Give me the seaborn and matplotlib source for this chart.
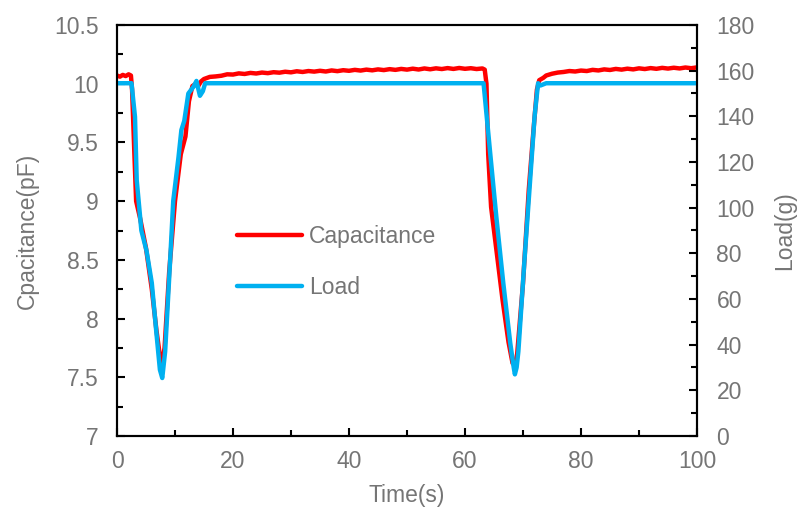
import matplotlib
matplotlib.use("Agg")
import matplotlib.pyplot as plt
from matplotlib.ticker import MultipleLocator
import seaborn as sns
import pandas as pd

# ---- data ----
cap_time = [0, 0.5, 1.0, 1.5, 2.0, 2.4, 2.6, 3.0, 3.3, 4.0, 5.0, 6.0, 6.8, 7.4, 7.8, 8.2,
            9.0, 10.0, 11.0, 11.8, 12.4, 13.0, 13.6, 14.0, 14.5,
            15, 16, 17, 18, 19, 20, 21, 22, 23, 24, 25, 26, 27, 28, 29, 30, 31, 32, 33, 34,
            35, 36, 37, 38, 39, 40, 41, 42, 43, 44, 45, 46, 47, 48, 49, 50, 51, 52, 53, 54,
            55, 56, 57, 58, 59, 60, 61, 62, 63, 63.4,
            63.7, 64.0, 64.5, 65.5, 66.5, 67.5, 68.2, 68.6, 69.0, 70.0, 71.0, 71.8, 72.4,
            72.8, 73.5, 74, 75, 76, 77, 78, 79, 80, 81, 82, 83, 84, 85, 86, 87, 88, 89, 90,
            91, 92, 93, 94, 95, 96, 97, 98, 99, 100]
capacitance = [10.07, 10.06, 10.075, 10.065, 10.08, 10.07, 9.95, 9.4, 9.0, 8.85, 8.6, 8.25, 7.9, 7.68, 7.62, 7.75,
               8.4, 9.0, 9.4, 9.55, 9.85, 9.98, 10.0, 9.98, 10.02,
               10.04, 10.058, 10.062, 10.068, 10.08, 10.078, 10.088, 10.083, 10.092, 10.087, 10.095, 10.09,
               10.098, 10.094, 10.102, 10.097, 10.106, 10.1, 10.108, 10.103, 10.11, 10.104, 10.113, 10.107,
               10.115, 10.11, 10.118, 10.112, 10.12, 10.114, 10.122, 10.116, 10.124, 10.118, 10.126, 10.12,
               10.128, 10.121, 10.13, 10.123, 10.131, 10.125, 10.133, 10.126, 10.134, 10.127, 10.132,
               10.125, 10.13, 10.12,
               10.0, 9.4, 8.95, 8.55, 8.15, 7.8, 7.62, 7.6, 7.7, 8.3, 9.1, 9.6, 9.95,
               10.03, 10.05, 10.07, 10.085, 10.095, 10.1, 10.108, 10.104, 10.112, 10.108, 10.118, 10.113,
               10.122, 10.117, 10.126, 10.12, 10.128, 10.122, 10.131, 10.125, 10.133, 10.127, 10.135,
               10.129, 10.136, 10.13, 10.138, 10.132, 10.139]

load_time = [0, 2.5, 3.1, 3.4, 4.2, 5.1, 6.0, 6.8, 7.4, 7.8, 8.3, 9.1, 9.7, 10.6, 11.1, 11.6,
             12.3, 13.2, 13.7, 14.3, 14.8, 15.2, 63.2, 64.3, 65.4, 66.6, 67.8, 68.4, 68.6,
             68.9, 69.2, 70.2, 71.2, 72.0, 72.6, 73.0, 74.0, 100]
load = [154.5, 154.5, 139.8, 112, 90, 81, 67, 45, 29, 25.4, 37, 74, 103, 122, 134, 138,
        150, 153, 155.5, 149, 151, 154.5, 154.5, 125, 96, 67, 40.7, 30, 27,
        30, 37, 75, 111, 140, 154.5, 153.5, 154.5, 154.5]

cap_df = pd.DataFrame({"Time": cap_time, "Capacitance": capacitance})
load_df = pd.DataFrame({"Time": load_time, "Load": load})

sns.set_theme(style="white")
plt.rcParams["font.family"] = ["Liberation Sans", "DejaVu Sans"]

gray = "#757575"
fs = 16.5
fig = plt.figure(figsize=(8.01, 5.18), dpi=100)
ax = fig.add_axes([117 / 801, 1 - 436 / 518, 580 / 801, 411 / 518])
ax2 = ax.twinx()

sns.lineplot(data=cap_df, x="Time", y="Capacitance", ax=ax, color="#FF0000", lw=3.2,
             sort=False, estimator=None, label="Capacitance", legend=False)
sns.lineplot(data=load_df, x="Time", y="Load", ax=ax2, color="#00B0F0", lw=3.2,
             sort=False, estimator=None, label="Load", legend=False)

ax.set_xlim(0, 100)
ax.set_ylim(7, 10.5)
ax2.set_ylim(0, 180)

ax.xaxis.set_major_locator(MultipleLocator(20))
ax.xaxis.set_minor_locator(MultipleLocator(10))
ax.yaxis.set_major_locator(MultipleLocator(0.5))
ax.yaxis.set_minor_locator(MultipleLocator(0.25))
ax2.yaxis.set_major_locator(MultipleLocator(20))
ax2.yaxis.set_minor_locator(MultipleLocator(10))

ax.set_yticks([7, 7.5, 8, 8.5, 9, 9.5, 10, 10.5])
ax.set_yticklabels(["7", "7.5", "8", "8.5", "9", "9.5", "10", "10.5"])

for a in (ax, ax2):
    for s in a.spines.values():
        s.set_color("black")
        s.set_linewidth(1.5)

ax.tick_params(axis="both", which="both", direction="in", colors="black",
               labelcolor=gray, labelsize=fs, bottom=True, left=True, top=False, right=False)
ax.tick_params(which="major", length=6, width=1.5)
ax.tick_params(which="minor", length=4, width=1.5)
ax.tick_params(axis="y", which="major", pad=13)
ax.tick_params(axis="x", which="major", pad=10)
ax2.tick_params(axis="y", which="both", direction="in", colors="black",
                labelcolor=gray, labelsize=fs, right=True, left=False)
ax2.tick_params(which="major", length=6, width=1.5, pad=14)
ax2.tick_params(which="minor", length=4, width=1.5)

ax.set_xlabel("Time(s)", fontsize=fs, color=gray, labelpad=8)
ax.set_ylabel("Cpacitance(pF)", fontsize=fs, color=gray, labelpad=11)
ax2.set_ylabel("Load(g)", fontsize=fs, color=gray, labelpad=13)
ax.grid(False)
ax2.grid(False)

h1, l1 = ax.get_legend_handles_labels()
h2, l2 = ax2.get_legend_handles_labels()
leg = ax2.legend(h1 + h2, l1 + l2, loc="upper left",
                 bbox_to_anchor=(216 / 801, 1 - 204 / 518), bbox_transform=fig.transFigure,
                 frameon=False, fontsize=fs, handlelength=2.85, handletextpad=0.3,
                 labelspacing=1.22)
for t in leg.get_texts():
    t.set_color(gray)

fig.savefig("out.png", dpi=100)
